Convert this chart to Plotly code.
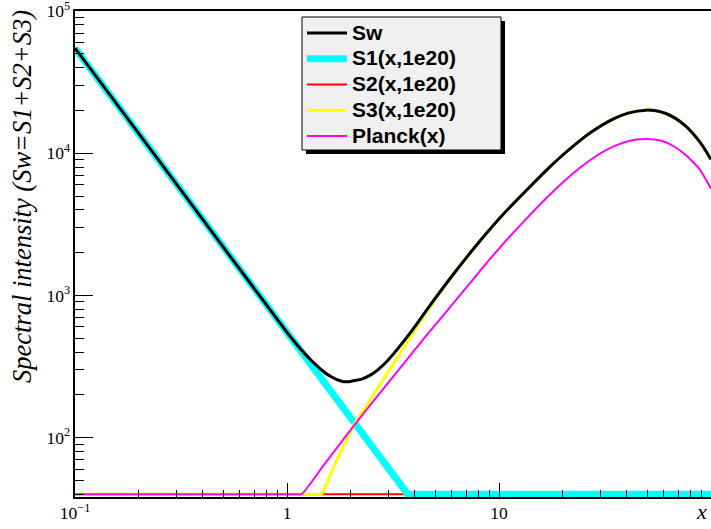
import math
import plotly.graph_objects as go

# ---- data ----
x_sw = [0.1, 0.3, 1.0, 1.1, 1.2, 1.3, 1.457, 1.6, 1.81, 1.95, 2.09, 2.25, 2.46, 2.7, 3.0, 3.79,
        4.71, 6.0, 8.09, 10.5, 13.92, 17, 19.27, 23.92, 27.6, 34.3, 41, 49.3, 55, 61.2, 68, 76,
        82, 87.8, 93, 100]
y_sw = [55000, 6111, 550, 461, 396, 350, 299, 270, 249, 247, 252, 258, 274, 302, 351, 538,
        845, 1370, 2396, 3742, 5770, 7774, 9266, 12191, 14281, 17330, 19250, 20120, 19890, 19050,
        17610, 15530, 13840, 12210, 10800, 9030]

x_s1 = [0.1, 0.3, 1.0, 2.0, 3.0, 3.71, 100]
y_s1 = [55000, 6111, 550, 137.5, 61.1, 40, 40]

x_s2 = [0.1, 100]
y_s2 = [40, 40]

x_s3 = [0.1, 1.4, 1.457, 1.6, 1.81, 2.09, 2.25, 2.46, 2.7, 3.0, 3.79, 4.71, 6.0, 8.09, 10.5,
        13.92, 17, 19.27, 23.92, 27.6, 34.3, 41, 49.3, 55, 61.2, 68, 76, 82, 87.8, 93, 100]
y_s3 = [40, 40, 40, 55, 81.5, 126, 149, 183, 227, 290, 500, 820, 1355, 2388, 3737,
        5767, 7772, 9265, 12190, 14280, 17330, 19250, 20120, 19890, 19050, 17610, 15530, 13840,
        12210, 10800, 9030]

x_pl = [0.1, 1.1, 1.17, 1.5, 2.09, 3.0, 4.5, 6.29, 9, 13, 18, 23.92, 29, 34.3, 41, 49.3, 55,
        61.2, 68, 76, 82, 87.8, 93, 100]
y_pl = [40, 40, 40, 64.9, 123.8, 242.7, 513, 933, 1781, 3282, 5386, 7840, 9645, 11100, 12216,
        12609, 12462, 11968, 11027, 9723, 8720, 7834, 6845, 5646]

names = ["Sw", "S1(x,1e20)", "S2(x,1e20)", "S3(x,1e20)", "Planck(x)"]
y_title = "Spectral intensity (Sw=S1+S2+S3)"
x_title = "x"

# ---- layout geometry (page pixels; body margin removed below) ----
W, H = 711, 529
ML, MR, MT, MB = 75, 0, 11, 32
PW, PH = W - ML - MR, H - MT - MB


def px2x(px):  # pixel -> paper x
    return (px - ML) / PW


def py2y(py):  # pixel -> paper y
    return (H - MB - py) / PH


def lname(s):
    return "<span style='font-size:21px'>" + s + "</span>"


fig = go.Figure()
# drawing order: S2, S1, S3, Planck, Sw on top
fig.add_trace(go.Scatter(x=x_s2, y=y_s2, mode="lines", name=lname(names[2]), legendrank=3,
                         line=dict(color="#ff0000", width=2)))
fig.add_trace(go.Scatter(x=x_s1, y=y_s1, mode="lines", name=lname(names[1]), legendrank=2,
                         line=dict(color="#00ffff", width=7)))
fig.add_trace(go.Scatter(x=x_s3, y=y_s3, mode="lines", name=lname(names[3]), legendrank=4,
                         line=dict(color="#ffff00", width=3, shape="spline", smoothing=0.6)))
fig.add_trace(go.Scatter(x=x_pl, y=y_pl, mode="lines", name=lname(names[4]), legendrank=5,
                         line=dict(color="#ff00ff", width=2, shape="spline", smoothing=0.6)))
fig.add_trace(go.Scatter(x=x_sw, y=y_sw, mode="lines", name=lname(names[0]), legendrank=1,
                         line=dict(color="#000000", width=3, shape="spline", smoothing=0.6)))

tickfont = dict(family="Liberation Serif", size=14, color="black")

fig.update_layout(
    width=W, height=H, autosize=False,
    margin=dict(l=ML, r=MR, t=MT, b=MB, pad=0, autoexpand=False),
    paper_bgcolor="white", plot_bgcolor="white",
    showlegend=True,
    legend=dict(x=px2x(302), y=py2y(15), xanchor="left", yanchor="top",
                bgcolor="rgba(0,0,0,0)", borderwidth=0, itemwidth=40,
                font=dict(family="Liberation Sans", size=17.5, color="black", weight="bold")),
    xaxis=dict(type="log", range=[-1, 2], showgrid=False, zeroline=False, automargin=False,
               showline=True, linecolor="black", linewidth=2, mirror=True,
               ticks="inside", ticklen=14, tickwidth=1, tickcolor="black",
               dtick=1, exponentformat="power", tickfont=tickfont,
               minor=dict(ticks="inside", ticklen=7, tickwidth=1, tickcolor="black", dtick="D1",
                          showgrid=False)),
    yaxis=dict(type="log", range=[math.log10(38.2), 5.001], showgrid=False, zeroline=False,
               automargin=False,
               showline=True, linecolor="black", linewidth=2,
               ticks="inside", ticklen=18, tickwidth=1, tickcolor="black",
               dtick=1, exponentformat="power", tickfont=tickfont,
               ticklabeloverflow="allow",
               minor=dict(ticks="inside", ticklen=9, tickwidth=1, tickcolor="black", dtick="D1",
                          showgrid=False)),
    shapes=[
        dict(type="rect", xref="paper", yref="paper", layer="above",
             x0=px2x(306), x1=px2x(505), y0=py2y(154), y1=py2y(21),
             fillcolor="black", line=dict(width=0)),
        dict(type="rect", xref="paper", yref="paper", layer="above",
             x0=px2x(302), x1=px2x(501), y0=py2y(150), y1=py2y(17),
             fillcolor="#f0f0f0", line=dict(color="black", width=1)),
    ],
    annotations=[
        dict(text=x_title, xref="paper", yref="paper", x=px2x(709), y=py2y(512),
             xanchor="right", yanchor="middle", showarrow=False,
             font=dict(family="Liberation Serif", size=22, color="black", style="italic")),
        dict(text=y_title, xref="paper", yref="paper", x=px2x(22), y=py2y(197),
             xanchor="center", yanchor="middle", showarrow=False, textangle=-90,
             font=dict(family="Liberation Serif", size=26.5, color="black", style="italic")),
    ],
)

fig.write_html("out.html", config={"displayModeBar": False},
               post_script="document.body.style.margin='0px';")
